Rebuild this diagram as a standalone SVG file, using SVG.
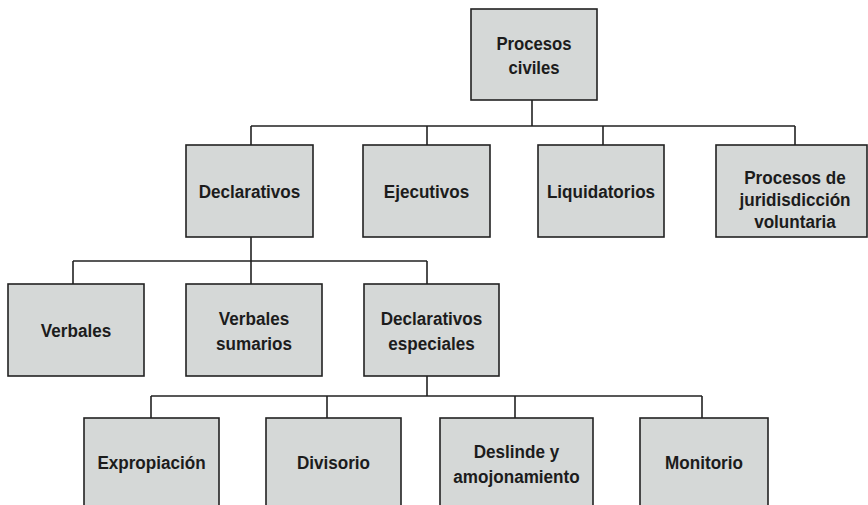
<svg xmlns="http://www.w3.org/2000/svg" width="868" height="505" viewBox="0 0 868 505">
<style>
.box{fill:#d5d8d7;stroke:#222;stroke-width:1.6}
.lbl{font-family:"Liberation Sans",Arial,sans-serif;font-weight:bold;font-size:19px;fill:#1c1c1c;text-anchor:middle}
.conn{fill:none;stroke:#222;stroke-width:1.6}
</style>
<rect width="868" height="505" fill="#fff"/>
<g id="connectors">
<path class="conn" d="M532 100V126M251 126H795M251 126V145M427 126V145M603 126V145M795 126V145"/>
<path class="conn" d="M251 237V261M73 261H427M73 261V284M251 261V284M427 261V284"/>
<path class="conn" d="M427 376V396M151 396H702M151 396V418M327 396V418M515 396V418M702 396V418"/>
</g>
<g id="procesos-civiles"><rect class="box" x="471" y="9" width="126" height="91"/><text class="lbl" transform="translate(534 50) scale(0.88 1)">Procesos</text><text class="lbl" transform="translate(534 74) scale(0.88 1)">civiles</text></g>
<g id="declarativos"><rect class="box" x="186" y="145" width="127" height="92"/><text class="lbl" transform="translate(249.5 198) scale(0.9 1)">Declarativos</text></g>
<g id="ejecutivos"><rect class="box" x="363" y="145" width="127" height="92"/><text class="lbl" transform="translate(426.5 198) scale(0.9 1)">Ejecutivos</text></g>
<g id="liquidatorios"><rect class="box" x="538" y="145" width="126" height="92"/><text class="lbl" transform="translate(601 198) scale(0.9 1)">Liquidatorios</text></g>
<g id="jurisdiccion-voluntaria"><rect class="box" x="716" y="145" width="151" height="92"/><text class="lbl" transform="translate(795 184) scale(0.9 1)">Procesos de</text><text class="lbl" transform="translate(795 206) scale(0.9 1)">juridisdicción</text><text class="lbl" transform="translate(795 228) scale(0.9 1)">voluntaria</text></g>
<g id="verbales"><rect class="box" x="8" y="284" width="136" height="92"/><text class="lbl" transform="translate(76 337) scale(0.9 1)">Verbales</text></g>
<g id="verbales-sumarios"><rect class="box" x="186" y="284" width="136" height="92"/><text class="lbl" transform="translate(254 325) scale(0.9 1)">Verbales</text><text class="lbl" transform="translate(254 350) scale(0.9 1)">sumarios</text></g>
<g id="declarativos-especiales"><rect class="box" x="364" y="284" width="135" height="92"/><text class="lbl" transform="translate(431.5 325) scale(0.9 1)">Declarativos</text><text class="lbl" transform="translate(431.5 350) scale(0.9 1)">especiales</text></g>
<g id="expropiacion"><rect class="box" x="84" y="418" width="135" height="100"/><text class="lbl" transform="translate(151.5 469) scale(0.9 1)">Expropiación</text></g>
<g id="divisorio"><rect class="box" x="266" y="418" width="135" height="100"/><text class="lbl" transform="translate(333.5 469) scale(0.9 1)">Divisorio</text></g>
<g id="deslinde"><rect class="box" x="440" y="418" width="153" height="100"/><text class="lbl" transform="translate(516.5 458) scale(0.9 1)">Deslinde y</text><text class="lbl" transform="translate(516.5 483) scale(0.9 1)">amojonamiento</text></g>
<g id="monitorio"><rect class="box" x="640" y="418" width="128" height="100"/><text class="lbl" transform="translate(704 469) scale(0.9 1)">Monitorio</text></g>
</svg>
